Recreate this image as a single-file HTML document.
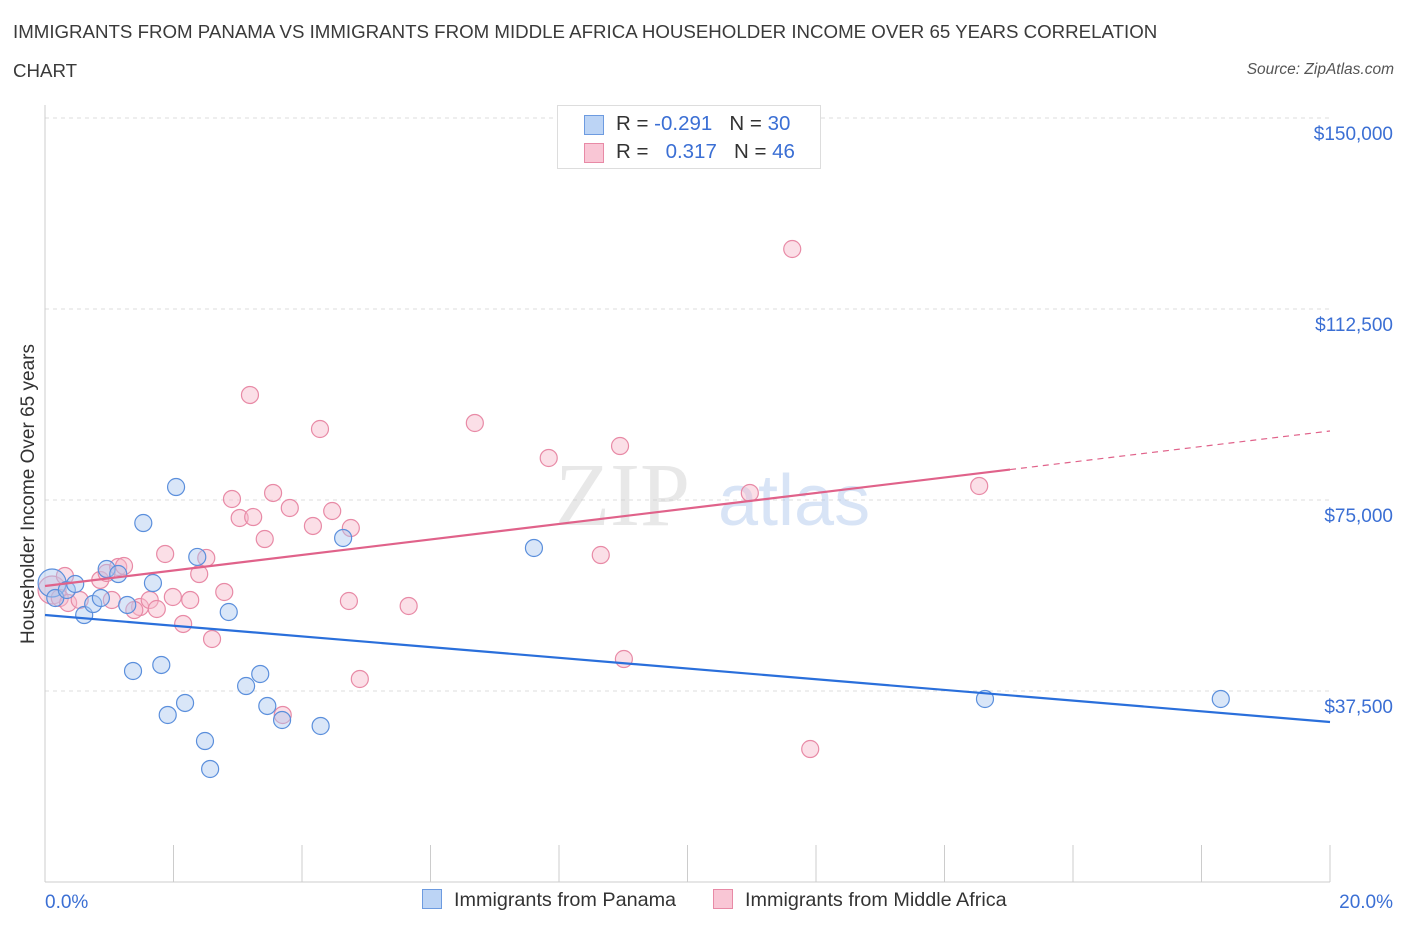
<!DOCTYPE html>
<html><head><meta charset="utf-8"><style>
body{margin:0;background:#fff;font-family:"Liberation Sans",sans-serif;}
#wrap{position:relative;width:1406px;height:930px;overflow:hidden;}
.title{position:absolute;left:13px;font-size:18.7px;color:#3a3a3a;}
</style></head><body>
<div id="wrap">
<div class="title" style="top:21px">IMMIGRANTS FROM PANAMA VS IMMIGRANTS FROM MIDDLE AFRICA HOUSEHOLDER INCOME OVER 65 YEARS CORRELATION</div>
<div class="title" style="top:60px">CHART</div>
<div style="position:absolute;right:12px;top:61px;font-size:15.5px;font-style:italic;color:#555">Source: ZipAtlas.com</div>
<svg id="svg" width="1406" height="930" style="position:absolute;left:0;top:0"></svg>
</div>
<script>
const yTicks=[37500,75000,112500,150000];
const yTickLabels=["$37,500","$75,000","$112,500","$150,000"];
const xTickLabels=["0.0%","20.0%"];
const panamaX=[0.11,0.16,0.34,0.47,0.61,0.75,0.87,0.96,1.14,1.28,1.37,1.53,1.68,1.81,1.91,2.04,2.18,2.37,2.49,2.57,2.86,3.13,3.35,3.46,3.69,4.29,4.64,7.61,14.63,18.30];
const panamaY=[58700,55760,57330,58510,52420,54580,55760,61450,60470,54390,41430,70480,58700,42610,32790,77550,35150,63820,27680,22190,53010,38480,40840,34560,31810,30630,67540,65580,35930,35930];
const africaX=[0.11,0.23,0.36,0.54,0.86,0.96,1.14,1.23,1.48,1.63,1.74,1.87,1.99,2.15,2.26,2.40,2.51,2.60,2.79,2.91,3.03,3.19,3.24,3.42,3.55,3.70,3.81,4.17,4.28,4.47,4.73,4.76,4.90,5.66,6.69,7.84,8.65,8.95,9.01,10.97,11.63,11.91,14.54,0.31,1.04,1.39];
const africaY=[57330,55760,54780,55370,59300,60670,61850,62040,53990,55370,53600,64400,55960,50660,55370,60470,63620,47710,56940,75200,71470,95620,71660,67340,76380,32790,73430,69900,88940,72840,55170,69500,39860,54190,90120,83250,64200,85600,43780,76380,124280,26110,77750,60080,55370,53400];
const panamaTrend=[52420,31410];
const africaTrend=[58120,88550];
const africaSolidEnd=15.02;

const NS="http://www.w3.org/2000/svg";
const svg=document.getElementById('svg');
const X=v=>45+v/20*1285;
const Y=v=>882-v/37500*191;
function mk(t,a){const e=document.createElementNS(NS,t);for(const k in a)e.setAttribute(k,a[k]);svg.appendChild(e);return e;}
yTicks.forEach((t,i)=>{
 const g=mk('line',{x1:45,x2:1330,y1:Y(t),y2:Y(t),stroke:'#ddd','stroke-dasharray':'4,4'});
 
 
 const tx=mk('text',{x:1393,y:Y(t)+22,'text-anchor':'end','font-size':19,fill:'#3b6fd4','font-family':'Liberation Sans'});
 tx.textContent=yTickLabels[i];
 
 
});
const ax=mk('line',{x1:45,x2:45,y1:105,y2:882,stroke:'#ccc'});


const bx=mk('line',{x1:45,x2:1330,y1:882,y2:882,stroke:'#ccc'});


for(let i=0;i<=10;i++){
 const t=mk('line',{x1:X(i*2),x2:X(i*2),y1:845,y2:882,stroke:'#ccc'});
 
 
}
[[0,'start',45],[20,'end',1393]].forEach((d,i)=>{
 const t=mk('text',{x:d[2],y:908,'text-anchor':d[1],'font-size':19,fill:'#3b6fd4','font-family':'Liberation Sans'});
 t.textContent=xTickLabels[i];
 
 
});
const yl=mk('text',{x:34,y:494,transform:'rotate(-90 34 494)','text-anchor':'middle','font-size':19,fill:'#333','font-family':'Liberation Sans'});
yl.textContent='Householder Income Over 65 years';


const wm=mk('text',{x:555,y:525,'font-size':90,fill:'#ccc','fill-opacity':0.45,'font-family':'Liberation Serif'});
wm.textContent='ZIP';


const wm2=mk('text',{x:718,y:525,'font-size':72,fill:'#a9c4ea','fill-opacity':0.45,'font-family':'Liberation Sans'});
wm2.textContent='atlas';


function pts(xs,ys,fill,stroke,name){
 xs.forEach((x,i)=>{
  const r=i===0?14:8.5;
  const c=mk('circle',{cx:X(x),cy:Y(ys[i]),r:r,fill:fill,'fill-opacity':0.45,stroke:stroke,'stroke-width':1.2});
  
  
 });
}
pts(africaX,africaY,'#f7b8ca','#e88aa6','point-middle-africa');
pts(panamaX,panamaY,'#aac8f0','#5b8fdc','point-panama');
const pl=mk('line',{x1:X(0),y1:Y(panamaTrend[0]),x2:X(20),y2:Y(panamaTrend[1]),stroke:'#2a6fdb','stroke-width':2.2});


const ay=x=>africaTrend[0]+(africaTrend[1]-africaTrend[0])*x/20;
const al=mk('line',{x1:X(0),y1:Y(ay(0)),x2:X(africaSolidEnd),y2:Y(ay(africaSolidEnd)),stroke:'#e0628a','stroke-width':2.2});


const ad=mk('line',{x1:X(africaSolidEnd),y1:Y(ay(africaSolidEnd)),x2:X(20),y2:Y(ay(20)),stroke:'#e0628a','stroke-width':1.2,'stroke-dasharray':'6,5'});


</script>
<div style="position:absolute;left:557px;top:105px;width:262px;height:62px;border:1px solid #ddd;background:#fff;font-size:20.5px;color:#333">
 <div style="position:absolute;left:26px;top:9px;width:18px;height:18px;background:#bcd4f5;border:1px solid #6d9be0"></div>
 <div style="position:absolute;left:58px;top:6px">R = <span style="color:#3b6fd4">-0.291</span>&nbsp;&nbsp;&nbsp;N = <span style="color:#3b6fd4">30</span></div>
 <div style="position:absolute;left:26px;top:37px;width:18px;height:18px;background:#f9c6d5;border:1px solid #e88aa6"></div>
 <div style="position:absolute;left:58px;top:34px">R = &nbsp;&nbsp;<span style="color:#3b6fd4">0.317</span>&nbsp;&nbsp;&nbsp;N = <span style="color:#3b6fd4">46</span></div>
</div>
<div style="position:absolute;left:422px;top:889px;font-size:19.8px;color:#333"><span style="display:inline-block;width:18px;height:18px;background:#bcd4f5;border:1px solid #6d9be0;vertical-align:-3px;margin-right:12px"></span>Immigrants from Panama</div>
<div style="position:absolute;left:713px;top:889px;font-size:19.8px;color:#333"><span style="display:inline-block;width:18px;height:18px;background:#f9c6d5;border:1px solid #e88aa6;vertical-align:-3px;margin-right:12px"></span>Immigrants from Middle Africa</div>
</body></html>
